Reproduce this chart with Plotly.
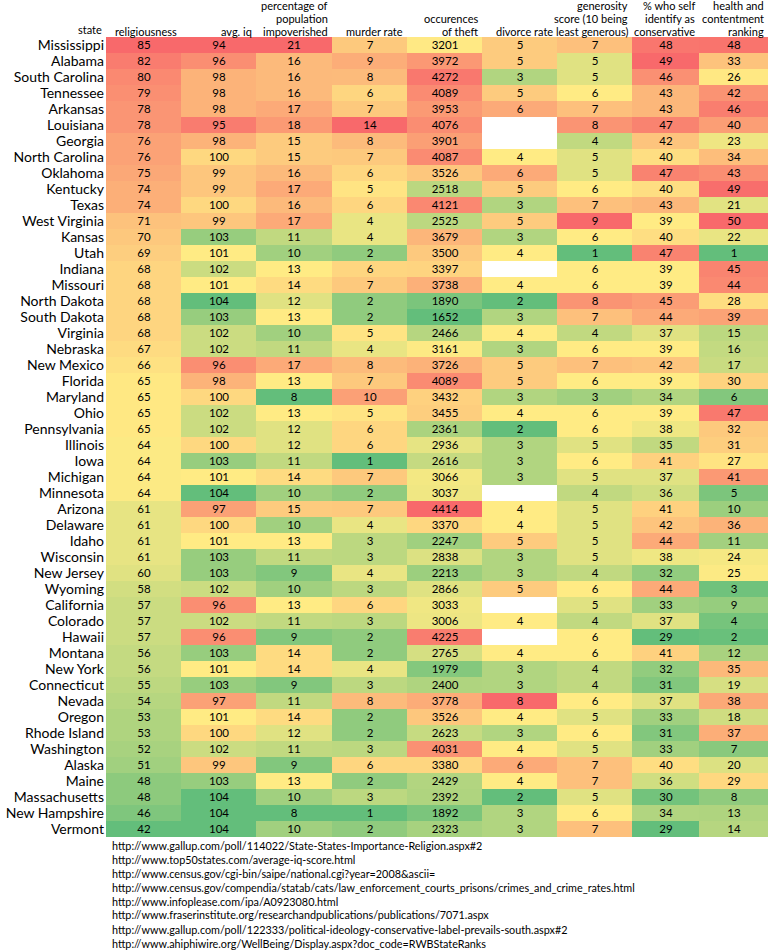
import numpy as np
import plotly.graph_objects as go

states = ["Mississippi", "Alabama", "South Carolina", "Tennessee", "Arkansas", "Louisiana",
          "Georgia", "North Carolina", "Oklahoma", "Kentucky", "Texas", "West Virginia",
          "Kansas", "Utah", "Indiana", "Missouri", "North Dakota", "South Dakota", "Virginia",
          "Nebraska", "New Mexico", "Florida", "Maryland", "Ohio", "Pennsylvania", "Illinois",
          "Iowa", "Michigan", "Minnesota", "Arizona", "Delaware", "Idaho", "Wisconsin",
          "New Jersey", "Wyoming", "California", "Colorado", "Hawaii", "Montana", "New York",
          "Connecticut", "Nevada", "Oregon", "Rhode Island", "Washington", "Alaska", "Maine",
          "Massachusetts", "New Hampshire", "Vermont"]

religiousness = [85, 82, 80, 79, 78, 78, 76, 76, 75, 74, 74, 71, 70, 69, 68, 68, 68, 68, 68, 67,
                 66, 65, 65, 65, 65, 64, 64, 64, 64, 61, 61, 61, 61, 60, 58, 57, 57, 57, 56, 56,
                 55, 54, 53, 53, 52, 51, 48, 48, 46, 42]
avg_iq = [94, 96, 98, 98, 98, 95, 98, 100, 99, 99, 100, 99, 103, 101, 102, 101, 104, 103, 102, 102,
          96, 98, 100, 102, 102, 100, 103, 101, 104, 97, 100, 101, 103, 103, 102, 96, 102, 96, 103, 101,
          103, 97, 101, 100, 102, 99, 103, 104, 104, 104]
impoverished = [21, 16, 16, 16, 17, 18, 15, 15, 16, 17, 16, 17, 11, 10, 13, 14, 12, 13, 10, 11,
                17, 13, 8, 13, 12, 12, 11, 14, 10, 15, 10, 13, 11, 9, 10, 13, 11, 9, 14, 14,
                9, 11, 14, 12, 11, 9, 13, 10, 8, 10]
murder = [7, 9, 8, 6, 7, 14, 8, 7, 6, 5, 6, 4, 4, 2, 6, 7, 2, 2, 5, 4,
          8, 7, 10, 5, 6, 6, 1, 7, 2, 7, 4, 3, 3, 4, 3, 6, 3, 2, 2, 4,
          3, 8, 2, 2, 3, 6, 2, 3, 1, 2]
theft = [3201, 3972, 4272, 4089, 3953, 4076, 3901, 4087, 3526, 2518, 4121, 2525, 3679, 3500, 3397,
         3738, 1890, 1652, 2466, 3161, 3726, 4089, 3432, 3455, 2361, 2936, 2616, 3066, 3037, 4414,
         3370, 2247, 2838, 2213, 2866, 3033, 3006, 4225, 2765, 1979, 2400, 3778, 3526, 2623, 4031,
         3380, 2429, 2392, 1892, 2323]
divorce = [5, 5, 3, 5, 6, None, None, 4, 6, 5, 3, 5, 3, 4, None, 4, 2, 3, 4, 3,
           5, 5, 3, 4, 2, 3, 3, 3, None, 4, 4, 5, 3, 3, 5, None, 4, None, 4, 3,
           3, 8, 4, 3, 4, 6, 4, 2, 3, 3]
generosity = [7, 5, 5, 6, 7, 8, 4, 5, 5, 6, 7, 9, 6, 1, 6, 6, 8, 7, 4, 6,
              7, 6, 3, 6, 6, 5, 6, 5, 4, 5, 5, 5, 5, 4, 6, 5, 4, 6, 6, 4,
              4, 6, 5, 6, 5, 7, 7, 5, 6, 7]
conservative = [48, 49, 46, 43, 43, 47, 42, 40, 47, 40, 43, 39, 40, 47, 39, 39, 45, 44, 37, 39,
                42, 39, 34, 39, 38, 35, 41, 37, 36, 41, 42, 44, 38, 32, 44, 33, 37, 29, 41, 32,
                31, 37, 33, 31, 33, 40, 36, 30, 34, 29]
health_rank = [48, 33, 26, 42, 46, 40, 23, 34, 43, 49, 21, 50, 22, 1, 45, 44, 28, 39, 15, 16,
               17, 30, 6, 47, 32, 31, 27, 41, 5, 10, 36, 11, 24, 25, 3, 9, 4, 2, 12, 35,
               19, 38, 18, 37, 7, 20, 29, 8, 13, 14]

# header lines, bottom line last
headers = [["religiousness"], ["avg. iq"], ["percentage of", "population", "impoverished"],
           ["murder rate"], ["occurences", "of theft"], ["divorce rate"],
           ["generosity", "score (10 being", "least generous)"],
           ["% who self", "identify as", "conservative"], ["health and", "contentment", "ranking"]]

sources = [
    "http://www.gallup.com/poll/114022/State-States-Importance-Religion.aspx#2",
    "http://www.top50states.com/average-iq-score.html",
    "http://www.census.gov/cgi-bin/saipe/national.cgi?year=2008&ascii=",
    "http://www.census.gov/compendia/statab/cats/law_enforcement_courts_prisons/crimes_and_crime_rates.html",
    "http://www.infoplease.com/ipa/A0923080.html",
    "http://www.fraserinstitute.org/researchandpublications/publications/7071.aspx",
    "http://www.gallup.com/poll/122333/political-ideology-conservative-label-prevails-south.aspx#2",
    "http://www.ahiphiwire.org/WellBeing/Display.aspx?doc_code=RWBStateRanks",
]

columns = [religiousness, avg_iq, impoverished, murder, theft, divorce, generosity, conservative, health_rank]
high_is_good = [False, True, False, False, False, False, False, False, False]

# excel style 3 colour scale: min / 50th percentile / max
def scale_col(vals, flip):
    arr = np.array([np.nan if v is None else v for v in vals], dtype=float)
    lo, mid, hi = np.nanmin(arr), np.nanpercentile(arr, 50), np.nanmax(arr)
    out = []
    for v in arr:
        if np.isnan(v):
            out.append(None)
            continue
        if v <= mid:
            t = 0.5 * (v - lo) / (mid - lo) if mid > lo else 0.5
        else:
            t = 0.5 + 0.5 * (v - mid) / (hi - mid)
        out.append(1 - t if flip else t)
    return out

scaled = [scale_col(c, f) for c, f in zip(columns, high_is_good)]
z = [[scaled[j][i] for j in range(len(columns))] for i in range(len(states))]
txt = [["" if columns[j][i] is None else str(columns[j][i]) for j in range(len(columns))]
       for i in range(len(states))]

# column widths in px (layout)
left = 106
widths = [75, 75, 76, 75, 75, 75, 75, 67, 69]
edges = [int(e) for e in np.cumsum([left] + widths)]

FONT = "Lato, Liberation Sans, Arial"

fig = go.Figure(go.Heatmap(
    z=z, x=edges, y=states, text=txt, texttemplate="%{text}",
    textfont=dict(family=FONT, size=11.5, color="black"),
    colorscale=[[0, "#63BE7B"], [0.5, "#FFEB84"], [1, "#F8696B"]],
    zmin=0, zmax=1, showscale=False, hoverinfo="skip"))

fig.update_xaxes(range=[edges[0], edges[-1]], showticklabels=False, showgrid=False,
                 zeroline=False, fixedrange=True)
fig.update_yaxes(type="category", autorange="reversed", showgrid=False, ticks="",
                 tickmode="array", tickvals=states, automargin=False, fixedrange=True,
                 tickfont=dict(family=FONT, size=14, color="black"), ticklabelstandoff=1)

hfont = dict(family=FONT, size=11, color="black")
line_shift = [6, 19, 32]  # px above plot top for bottom, middle, top header line
for j, lines in enumerate(headers):
    for k, line in enumerate(reversed(lines)):
        fig.add_annotation(x=edges[j + 1], xref="x", y=1, yref="paper", text=line,
                           showarrow=False, xanchor="right", yanchor="middle", xshift=-2,
                           yshift=line_shift[k], font=hfont)
fig.add_annotation(x=0, xref="paper", y=1, yref="paper", text="state", showarrow=False,
                   xanchor="right", yanchor="middle", xshift=-2, yshift=line_shift[0] + 2,
                   font=hfont)

plot_h = 800
for k, s in enumerate(sources):
    fig.add_annotation(x=110, xref="x", y=-(8 + 14 * k) / plot_h, yref="paper", text=s,
                       showarrow=False, xanchor="left", yanchor="middle",
                       font=dict(family=FONT, size=10.8, color="black"))

fig.update_layout(width=768, height=952, margin=dict(l=106, r=0, t=37, b=115),
                  plot_bgcolor="white", paper_bgcolor="white")

fig.write_html("out.html", config={"displayModeBar": False},
               post_script="document.body.style.margin='0';")
